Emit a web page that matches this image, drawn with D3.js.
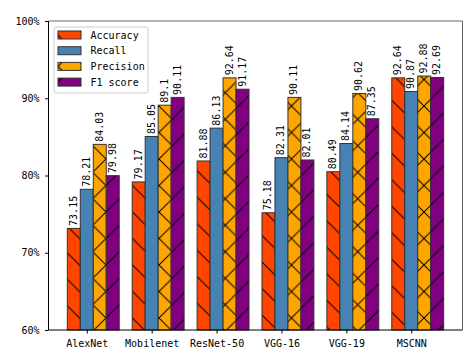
<!DOCTYPE html>
<html>
<head>
<meta charset="utf-8">
<script src="https://cdn.jsdelivr.net/npm/d3@7"></script>
<style>
body { margin: 0; background: #fff; }
text { font-family: "DejaVu Sans Mono", "Liberation Mono", monospace; }
</style>
</head>
<body>
<svg width="472" height="363"></svg>
<script>
var models = ["AlexNet", "Mobilenet", "ResNet-50", "VGG-16", "VGG-19", "MSCNN"];
var seriesNames = ["Accuracy", "Recall", "Precision", "F1 score"];
var accuracy = [73.15, 79.17, 81.88, 75.18, 80.49, 92.64];
var recall = [78.21, 85.05, 86.13, 82.31, 84.14, 90.87];
var precision = [84.03, 89.1, 92.64, 90.11, 90.62, 92.88];
var f1 = [79.98, 90.11, 91.17, 82.01, 87.35, 92.69];
var yTicks = [60, 70, 80, 90, 100];

var allSeries = [accuracy, recall, precision, f1];
var colors = ["#FF4500", "#4682B4", "#FFA500", "#800080"];
var hatches = ["back", "none", "cross", "fwd"];

var svg = d3.select("svg"),
  fontSize = 10;

var plotLeft = 48.5, plotRight = 462.5, plotTop = 21, plotBottom = 330;
var barW = 0.2;

var x = d3.scaleLinear().domain([-0.59, 5.79]).range([plotLeft, plotRight]);
var y = d3.scaleLinear().domain([60, 100]).range([plotBottom, plotTop]);

// hatch patterns
var defs = svg.append("defs");
var s = 26.5;
hatches.forEach(function(h, i) {
  var p = defs.append("pattern")
    .attr("id", "hatch" + i)
    .attr("patternUnits", "userSpaceOnUse")
    .attr("width", s).attr("height", s);
  p.append("rect").attr("width", s).attr("height", s).attr("fill", colors[i]);
  var d = "";
  if (h == "back" || h == "cross") {
    d += "M0,0L" + s + "," + s + "M-2," + (s - 2) + "L2," + (s + 2) + "M" + (s - 2) + ",-2L" + (s + 2) + ",2";
  }
  if (h == "fwd" || h == "cross") {
    d += "M0," + s + "L" + s + ",0M-2,2L2,-2M" + (s - 2) + "," + (s + 2) + "L" + (s + 2) + "," + (s - 2);
  }
  if (d) p.append("path").attr("d", d).attr("stroke", "#000").attr("stroke-width", 1).attr("fill", "none");
});

// bars
allSeries.forEach(function(vals, i) {
  var g = svg.append("g");
  g.selectAll("rect")
    .data(vals)
    .enter().append("rect")
    .attr("x", function(d, j) { return x(j + (i - 1) * barW - barW / 2); })
    .attr("y", function(d) { return y(d); })
    .attr("width", x(barW) - x(0))
    .attr("height", function(d) { return y(60) - y(d); })
    .attr("fill", "url(#hatch" + i + ")")
    .attr("stroke", "#333")
    .attr("stroke-width", 1);
});

// value labels
allSeries.forEach(function(vals, i) {
  svg.append("g").selectAll("text")
    .data(vals)
    .enter().append("text")
    .attr("transform", function(d, j) {
      return "translate(" + (x(j + (i - 1) * barW) - 0.5) + "," + (y(d) - 2.5) + ") rotate(-90)";
    })
    .attr("dy", "0.35em")
    .style("font-size", fontSize + "px")
    .text(function(d) { return d; });
});

// axes
var xAxis = d3.axisBottom(x)
  .tickValues(d3.range(models.length))
  .tickFormat(function(d) { return models[d]; })
  .tickSize(3.5).tickPadding(6);
var gx = svg.append("g").attr("transform", "translate(0," + plotBottom + ")").call(xAxis);

var yAxis = d3.axisLeft(y)
  .tickValues(yTicks)
  .tickFormat(function(d) { return d + "%"; })
  .tickSize(3.5).tickPadding(5.5);
var gy = svg.append("g").attr("transform", "translate(" + plotLeft + ",0)").call(yAxis);

[gx, gy].forEach(function(g) {
  g.select(".domain").remove();
  g.selectAll("text").style("font-size", fontSize + "px").attr("fill", "#000")
    .style("font-family", "DejaVu Sans Mono");
  g.selectAll("line").attr("stroke", "#000");
});

// frame
svg.append("line").attr("x1", plotLeft).attr("x2", plotRight).attr("y1", plotTop).attr("y2", plotTop).attr("stroke", "#666");
svg.append("line").attr("x1", plotRight).attr("x2", plotRight).attr("y1", plotTop).attr("y2", plotBottom).attr("stroke", "#666");
svg.append("line").attr("x1", plotLeft).attr("x2", plotLeft).attr("y1", plotTop).attr("y2", plotBottom).attr("stroke", "#000");
svg.append("line").attr("x1", plotLeft).attr("x2", plotRight).attr("y1", plotBottom).attr("y2", plotBottom).attr("stroke", "#000");

// legend
var legend = svg.append("g").attr("transform", "translate(54,27)");
legend.append("rect")
  .attr("width", 94).attr("height", 66).attr("rx", 2)
  .attr("fill", "#fff").attr("fill-opacity", 0.8)
  .attr("stroke", "#ccc");
seriesNames.forEach(function(name, i) {
  var row = legend.append("g").attr("transform", "translate(4," + (8 + i * 15.7) + ")");
  row.append("rect")
    .attr("y", -4).attr("width", 23).attr("height", 8)
    .attr("fill", "url(#hatch" + i + ")")
    .attr("stroke", "#333");
  row.append("text")
    .attr("x", 32.5).attr("dy", "0.35em")
    .style("font-size", fontSize + "px")
    .text(name);
});
</script>
</body>
</html>
